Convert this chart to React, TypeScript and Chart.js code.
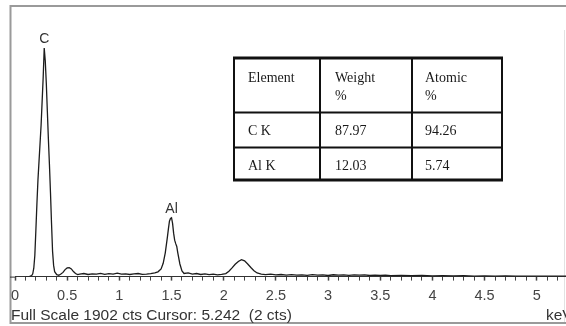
import { useEffect, useRef } from "react";
import { Chart, registerables } from "chart.js";

Chart.register(...registerables);

// EDS spectrum: energy (keV) and counts
const energyKeV = [
  0.10, 0.14, 0.16, 0.17, 0.18, 0.19, 0.20, 0.21, 0.22, 0.23, 0.24, 0.25, 0.26, 0.27, 0.28, 0.29,
  0.30, 0.31, 0.32, 0.33, 0.34, 0.35, 0.36, 0.37, 0.38, 0.40, 0.42, 0.44, 0.46, 0.48, 0.50, 0.52,
  0.54, 0.56, 0.58, 0.60, 0.62, 0.66, 0.70, 0.74, 0.78, 0.82, 0.86, 0.90, 0.94, 0.98, 1.02, 1.06,
  1.10, 1.14, 1.18, 1.22, 1.26, 1.30, 1.34, 1.37, 1.40, 1.42, 1.44, 1.46, 1.47, 1.48, 1.49, 1.50,
  1.51, 1.52, 1.53, 1.54, 1.55, 1.56, 1.58, 1.60, 1.62, 1.66, 1.70, 1.74, 1.78, 1.82, 1.86, 1.90,
  1.94, 1.98, 2.02, 2.05, 2.08, 2.11, 2.14, 2.17, 2.20, 2.23, 2.26, 2.29, 2.32, 2.36, 2.40, 2.45,
  2.50, 2.55, 2.60, 2.65, 2.70, 2.75, 2.80, 2.85, 2.90, 2.95, 3.00, 3.05, 3.10, 3.15, 3.20, 3.25,
  3.30, 3.35, 3.40, 3.45, 3.50, 3.55, 3.60, 3.70, 3.80, 3.90, 4.00, 4.10, 4.20, 4.30, 4.40, 4.50,
  4.60, 4.70, 4.80, 4.90, 5.00, 5.10, 5.20, 5.30,
];
const counts = [
  0, 2, 8, 20, 60, 150, 330, 520, 690, 820, 950, 1080, 1250, 1420, 1631, 1540,
  1380, 1180, 980, 800, 600, 380, 180, 80, 35, 14, 10, 18, 30, 50, 62, 64,
  55, 36, 22, 14, 18, 22, 15, 20, 17, 23, 16, 21, 18, 24, 17, 20,
  15, 19, 22, 16, 18, 21, 26, 34, 55, 95, 170, 280, 340, 395, 415, 420,
  380, 310, 260, 235, 215, 170, 90, 40, 22, 26, 18, 22, 15, 20, 14, 18,
  13, 16, 22, 38, 62, 88, 108, 121, 112, 90, 65, 42, 26, 18, 14, 17,
  12, 15, 11, 14, 10, 13, 9, 14, 10, 12, 8, 13, 10, 12, 9, 13,
  10, 12, 8, 11, 9, 10, 7, 9, 6, 8, 5, 7, 5, 6, 4, 5,
  4, 5, 3, 4, 3, 4, 3, 3,
];

const fullScaleCts = 1902;
const energyMin = 0;
const energyMax = 5.28;
const tickStep = 0.1;
const labelStep = 0.5;

// peak identification labels
const peakLabels = ["C", "Al"];
const peakEnergies = [0.28, 1.5];

// quantification table
const tableHeader = [["Element"], ["Weight", "%"], ["Atomic", "%"]];
const tableElements = ["C K", "Al K"];
const weightPct = ["87.97", "12.03"];
const atomicPct = ["94.26", "5.74"];

const statusText = "Full Scale 1902 cts Cursor: 5.242  (2 cts)";
const unitLabel = "keV";

const SANS = '"Liberation Sans", Arial, Helvetica, sans-serif';
const SERIF = '"Liberation Serif", "Times New Roman", serif';

const decorPlugin = {
  id: "spectrumDecor",
  beforeDraw(chart: any) {
    const { ctx, width, height, chartArea } = chart;
    ctx.save();
    ctx.fillStyle = "#ffffff";
    ctx.fillRect(0, 0, width, height);
    // window frame
    ctx.strokeStyle = "#9a9a9a";
    ctx.lineWidth = 2;
    ctx.beginPath();
    ctx.moveTo(width, 6);
    ctx.lineTo(10.5, 6);
    ctx.lineTo(10.5, 323);
    ctx.lineTo(width, 323);
    ctx.stroke();
    ctx.strokeStyle = "#e2e2e2";
    ctx.lineWidth = 1;
    ctx.beginPath();
    ctx.moveTo(564.5, 30);
    ctx.lineTo(564.5, 322);
    ctx.stroke();
    // axis line continues to the frame
    ctx.strokeStyle = "#333";
    ctx.beginPath();
    ctx.moveTo(10, chartArea.bottom + 0.5);
    ctx.lineTo(chartArea.left, chartArea.bottom + 0.5);
    ctx.stroke();
    ctx.restore();
  },
  afterDatasetsDraw(chart: any) {
    const { ctx, scales } = chart;
    const xs = scales.x;
    const ys = scales.y;
    ctx.save();

    // peak labels
    ctx.font = `14px ${SANS}`;
    ctx.fillStyle = "#333";
    ctx.textAlign = "center";
    ctx.textBaseline = "alphabetic";
    peakLabels.forEach((lab, i) => {
      const e = peakEnergies[i];
      const c = counts[energyKeV.indexOf(e)];
      ctx.fillText(lab, xs.getPixelForValue(e), ys.getPixelForValue(c) - 5);
    });

    // status line and unit
    ctx.font = `15.5px ${SANS}`;
    ctx.textAlign = "left";
    ctx.textBaseline = "middle";
    ctx.fillText(statusText, 11, 316);
    ctx.fillText(unitLabel, 546, 316);

    // quantification table
    const left = 234;
    const right = 502;
    const top = 58;
    const bottom = 180;
    const cols = [320, 412];
    const rows = [112.5, 147.5];
    ctx.strokeStyle = "#111";
    ctx.lineWidth = 2;
    ctx.beginPath();
    cols.forEach((cx) => {
      ctx.moveTo(cx, top);
      ctx.lineTo(cx, bottom);
    });
    rows.forEach((ry) => {
      ctx.moveTo(left, ry);
      ctx.lineTo(right, ry);
    });
    ctx.moveTo(left, top);
    ctx.lineTo(left, bottom);
    ctx.moveTo(right, top);
    ctx.lineTo(right, bottom);
    ctx.stroke();
    ctx.lineWidth = 3;
    ctx.beginPath();
    ctx.moveTo(left - 1, top);
    ctx.lineTo(right + 1, top);
    ctx.moveTo(left - 1, bottom);
    ctx.lineTo(right + 1, bottom);
    ctx.stroke();

    const textX = [248, 335, 425];
    ctx.font = `14px ${SERIF}`;
    ctx.fillStyle = "#1a1a1a";
    ctx.textBaseline = "alphabetic";
    tableHeader.forEach((lines, ci) => {
      lines.forEach((t, li) => ctx.fillText(t, textX[ci], 82 + li * 18));
    });
    const rowBase = [135, 170];
    tableElements.forEach((el, ri) => {
      ctx.fillText(el, textX[0], rowBase[ri]);
      ctx.fillText(weightPct[ri], textX[1], rowBase[ri]);
      ctx.fillText(atomicPct[ri], textX[2], rowBase[ri]);
    });
    ctx.restore();
  },
};

const isLabelTick = (v: number) =>
  Math.abs(v / labelStep - Math.round(v / labelStep)) < 1e-6;

export default function App() {
  const canvasRef = useRef<HTMLCanvasElement | null>(null);

  useEffect(() => {
    const canvas = canvasRef.current;
    if (!canvas) return;
    const chart = new Chart(canvas, {
      type: "line",
      data: {
        datasets: [
          {
            data: energyKeV.map((e, i) => ({ x: e, y: counts[i] })),
            borderColor: "#1c1c1c",
            borderWidth: 1.3,
            pointRadius: 0,
            tension: 0,
            fill: false,
          },
        ],
      },
      options: {
        responsive: false,
        animation: false,
        devicePixelRatio: 1,
        layout: { padding: { left: 15, right: 0, top: 10, bottom: 14 } },
        plugins: { legend: { display: false }, tooltip: { enabled: false } },
        scales: {
          x: {
            type: "linear",
            min: energyMin,
            max: energyMax,
            // plot runs right up to the canvas edge
            afterFit: (axis: any) => {
              axis.paddingRight = 0;
            },
            border: { display: true, color: "#333", width: 1 },
            grid: {
              display: true,
              drawOnChartArea: false,
              drawTicks: true,
              tickLength: 4,
              color: "#444",
              tickWidth: (c: any) => (c.tick && isLabelTick(c.tick.value) ? 1.5 : 1),
            },
            ticks: {
              stepSize: tickStep,
              includeBounds: false,
              autoSkip: false,
              maxRotation: 0,
              minRotation: 0,
              padding: 7,
              color: "#444",
              font: { family: SANS, size: 14.5 },
              callback: (value: any) => {
                const v = Number(value);
                return isLabelTick(v) ? String(+v.toFixed(1)) : "";
              },
            },
          },
          y: {
            display: false,
            min: 0,
            max: fullScaleCts,
          },
        },
      },
      plugins: [decorPlugin],
    } as any);
    return () => chart.destroy();
  }, []);

  return (
    <div style={{ position: "absolute", left: 0, top: 0, width: 566, height: 326, background: "#fff" }}>
      <canvas ref={canvasRef} width={566} height={326} style={{ display: "block" }} />
    </div>
  );
}
